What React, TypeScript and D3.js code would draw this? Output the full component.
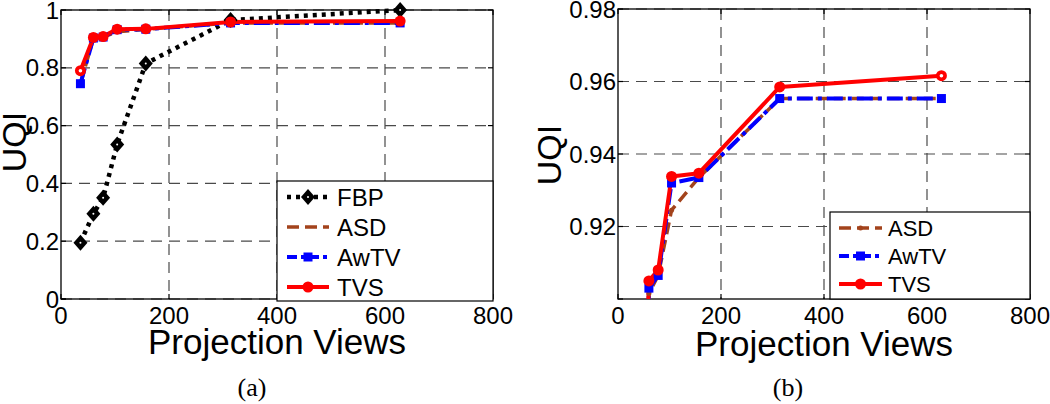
import React from "react";
import * as d3 from "d3";

// ---- data ----
const views = [36, 60, 78, 104, 157, 314, 628];
const fbp = [0.195, 0.295, 0.35, 0.535, 0.815, 0.965, 1.0];
const asd = [0.745, 0.9015, 0.9065, 0.9245, 0.9335, 0.9553, 0.9553];
const awtv = [0.745, 0.903, 0.9065, 0.932, 0.9335, 0.9553, 0.9553];
const tvs = [0.79, 0.905, 0.908, 0.9338, 0.9347, 0.9585, 0.9616];

const xTicks = [0, 200, 400, 600, 800];
const yTicksA = [0, 0.2, 0.4, 0.6, 0.8, 1];
const yTicksB = [0.92, 0.94, 0.96, 0.98];
const yLabelsA = ["0", "0.2", "0.4", "0.6", "0.8", "1"];
const yLabelsB = ["0.92", "0.94", "0.96", "0.98"];

const BROWN = "#a3431c";
const SANS = "'Liberation Sans', Arial, sans-serif";

type Series = {
  name: string;
  values: number[];
  color: string;
  dash: string;
  width: number;
  marker: "diamond" | "square" | "circle" | "dot";
};

const seriesAll: Series[] = [
  { name: "FBP", values: fbp, color: "#000", dash: "4,5", width: 4.5, marker: "diamond" },
  { name: "ASD", values: asd, color: BROWN, dash: "12,6", width: 3.5, marker: "dot" },
  { name: "AwTV", values: awtv, color: "#0000ff", dash: "16,5,4,5", width: 4, marker: "square" },
  { name: "TVS", values: tvs, color: "#ff0000", dash: "", width: 4, marker: "circle" },
];

function Marker({ s, x, y, hollow }: { s: Series; x: number; y: number; hollow?: boolean }) {
  if (s.marker === "diamond")
    return (
      <g>
        <path d={`M${x},${y - 8}L${x + 7},${y}L${x},${y + 8}L${x - 7},${y}Z`} fill="#000" />
        <circle cx={x} cy={y} r={1} fill="#fff" />
      </g>
    );
  if (s.marker === "square")
    return <rect x={x - 4.5} y={y - 4.5} width={9} height={9} fill={s.color} />;
  if (s.marker === "dot") return <circle cx={x} cy={y} r={2.5} fill={s.color} />;
  return (
    <g>
      <circle cx={x} cy={y} r={5.5} fill={s.color} />
      {hollow && <circle cx={x} cy={y} r={1.8} fill="#fff" />}
    </g>
  );
}

type PanelProps = {
  id: string;
  left: number;
  right: number;
  top: number;
  bottom: number;
  yDomain: [number, number];
  yTicks: number[];
  yLabels: string[];
  series: Series[];
  hollowIndex: number;
  legend: { x0: number; x1: number; y0: number; y1: number; firstY: number; step: number; lx0: number; lx1: number; tx: number; fs: number };
  uqiX: number;
  uqiY: number;
  xlabY: number;
  tag: string;
  tagX: number;
};

function Panel(p: PanelProps) {
  const x = d3.scaleLinear().domain([0, 800]).range([p.left, p.right]);
  const y = d3.scaleLinear().domain(p.yDomain).range([p.bottom, p.top]);
  const line = d3
    .line<number>()
    .x((_, i) => x(views[i]))
    .y((v) => y(v));
  const gridStyle = { stroke: "#4a4a4a", strokeWidth: 1.2, strokeDasharray: "11,7" };
  const allYTicks = [p.yDomain[0], ...p.yTicks];
  return (
    <g>
      <defs>
        <clipPath id={p.id}>
          <rect x={p.left} y={p.top - 8} width={p.right - p.left + 8} height={p.bottom - p.top + 8} />
        </clipPath>
      </defs>
      {/* grid */}
      {xTicks.slice(1, -1).map((t) => (
        <line key={"gx" + t} x1={x(t)} x2={x(t)} y1={p.top} y2={p.bottom} style={gridStyle} />
      ))}
      {p.yTicks.map((t) => (
        <line key={"gy" + t} x1={p.left} x2={p.right} y1={y(t)} y2={y(t)} style={gridStyle} />
      ))}
      {/* box */}
      <rect x={p.left} y={p.top} width={p.right - p.left} height={p.bottom - p.top} fill="none" stroke="#000" strokeWidth={1.3} />
      {/* ticks */}
      {xTicks.map((t) => (
        <g key={"tx" + t}>
          <line x1={x(t)} x2={x(t)} y1={p.bottom} y2={p.bottom - 5} stroke="#000" strokeWidth={1.2} />
          <line x1={x(t)} x2={x(t)} y1={p.top} y2={p.top + 5} stroke="#000" strokeWidth={1.2} />
        </g>
      ))}
      {allYTicks.map((t) => (
        <g key={"ty" + t}>
          <line x1={p.left} x2={p.left + 5} y1={y(t)} y2={y(t)} stroke="#000" strokeWidth={1.2} />
          <line x1={p.right} x2={p.right - 5} y1={y(t)} y2={y(t)} stroke="#000" strokeWidth={1.2} />
        </g>
      ))}
      {/* series */}
      <g clipPath={`url(#${p.id})`}>
        {p.series.map((s) => (
          <path key={s.name} d={line(s.values) || ""} fill="none" stroke={s.color} strokeWidth={s.width} strokeDasharray={s.dash} strokeLinejoin="round" />
        ))}
        {p.series.map((s) =>
          s.values.map((v, i) => (
            <Marker key={s.name + i} s={s} x={x(views[i])} y={y(v)} hollow={s.marker === "circle" && i === p.hollowIndex} />
          ))
        )}
      </g>
      {/* tick labels */}
      {xTicks.map((t) => (
        <text key={"lx" + t} x={x(t)} y={p.bottom + 25} textAnchor="middle" fontFamily={SANS} fontSize={24}>
          {t}
        </text>
      ))}
      {p.yTicks.map((t, i) => (
        <text key={"ly" + t} x={p.left - 2} y={y(t)} dy="0.36em" textAnchor="end" fontFamily={SANS} fontSize={24}>
          {p.yLabels[i]}
        </text>
      ))}
      {/* legend */}
      <rect x={p.legend.x0} y={p.legend.y0} width={p.legend.x1 - p.legend.x0} height={p.legend.y1 - p.legend.y0} fill="#fff" stroke="#000" strokeWidth={1.2} />
      {p.series.map((s, i) => {
        const ly = p.legend.firstY + i * p.legend.step;
        const mx = (p.legend.lx0 + p.legend.lx1) / 2;
        return (
          <g key={"lg" + s.name}>
            <line x1={p.legend.lx0} x2={p.legend.lx1} y1={ly} y2={ly} stroke={s.color} strokeWidth={s.width} strokeDasharray={s.dash === "16,5,4,5" ? "10,4,4,4" : s.dash} />
            {!(s.marker === "dot" && p.id === "clipA") && <Marker s={s} x={mx} y={ly} />}
            <text x={p.legend.tx} y={ly} dy="0.36em" fontFamily={SANS} fontSize={p.legend.fs}>
              {s.name}
            </text>
          </g>
        );
      })}
      {/* axis titles */}
      <text x={p.uqiX} y={p.uqiY} transform={`rotate(-90,${p.uqiX},${p.uqiY})`} textAnchor="middle" fontFamily={SANS} fontSize={34}>
        UQI
      </text>
      <text x={(p.left + p.right) / 2} y={p.xlabY} textAnchor="middle" fontFamily={SANS} fontSize={35}>
        Projection Views
      </text>
      <text x={p.tagX} y={396} textAnchor="middle" fontFamily="'Liberation Serif', 'Times New Roman', serif" fontSize={26}>
        {p.tag}
      </text>
    </g>
  );
}

export default function App() {
  return (
    <svg width={1050} height={404} style={{ position: "absolute", left: 0, top: 0, background: "#fff" }}>
      <rect width={1050} height={404} fill="#fff" />
      <Panel
        id="clipA"
        left={61}
        right={493}
        top={10}
        bottom={299}
        yDomain={[0, 1]}
        yTicks={yTicksA}
        yLabels={yLabelsA}
        series={seriesAll}
        hollowIndex={0}
        legend={{ x0: 277, x1: 493, y0: 181, y1: 301, firstY: 197, step: 30, lx0: 287, lx1: 329, tx: 337, fs: 24 }}
        uqiX={26}
        uqiY={142}
        xlabY={354}
        tag="(a)"
        tagX={252}
      />
      <Panel
        id="clipB"
        left={618}
        right={1030}
        top={9}
        bottom={299}
        yDomain={[0.9, 0.98]}
        yTicks={yTicksB}
        yLabels={yLabelsB}
        series={seriesAll.slice(1)}
        hollowIndex={6}
        legend={{ x0: 830, x1: 1030, y0: 212, y1: 299, firstY: 228, step: 28, lx0: 839, lx1: 882, tx: 888, fs: 22 }}
        uqiX={561}
        uqiY={155}
        xlabY={356}
        tag="(b)"
        tagX={788}
      />
    </svg>
  );
}
